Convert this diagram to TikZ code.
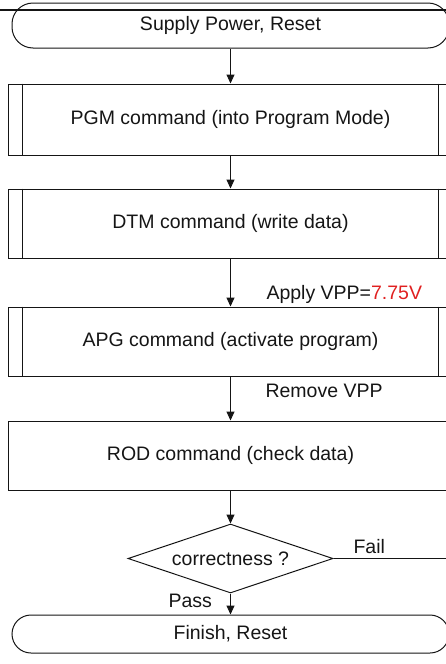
\documentclass[tikz,border=0pt]{standalone}
\usepackage{fontspec}
\setmainfont{Liberation Sans}
\usetikzlibrary{shapes.geometric,arrows.meta}
\definecolor{vred}{HTML}{E02020}
\definecolor{ink}{HTML}{151515}
\begin{document}
\begin{tikzpicture}[x=1pt,y=-1pt, line width=1pt, draw=ink, text=ink,
  font=\fontsize{19.5}{23}\selectfont,
  term/.style={draw, rounded corners=21pt, minimum width=437pt, minimum height=45pt, inner sep=0pt},
  proc/.style={draw, minimum width=445pt, minimum height=69pt, inner sep=0pt},
  dec/.style={draw, diamond, aspect=2.97, minimum width=205pt, minimum height=69pt, inner sep=0pt},
  lbl/.style={anchor=base west, inner sep=0pt},
  arr/.style={-{Triangle[length=9pt,width=8pt]}}]
\clip (0,0) rectangle (446,664);
% nodes
\node[term] (t1) at (230.5,25.5) {Supply Power, Reset};
\node[proc, minimum height=71pt] (pgm) at (230.5,119.5) {PGM command (into Program Mode)};
\node[proc] (dtm) at (230.5,223.5) {DTM command (write data)};
\node[proc] (apg) at (230.5,341.5) {APG command (activate program)};
\node[proc] (rod) at (230.5,455.5) {ROD command (check data)};
\node[dec] (chk) at (230.5,558.5) {correctness ?};
\node[term, rounded corners=19pt, minimum height=38pt] (t2) at (230.5,634) {Finish, Reset};
% inner bars of predefined-process boxes
\foreach \n in {pgm,dtm,apg}{
  \draw ([xshift=15pt]\n.north west) -- ([xshift=15pt]\n.south west);
  \draw ([xshift=-15pt]\n.north east) -- ([xshift=-15pt]\n.south east);
}
% top heavy rule
\coordinate (ruleL) at (0,10);
\coordinate (ruleR) at (446,10);
\draw[line width=2pt] (ruleL) -- (ruleR);
% connectors
\draw[arr] (t1.south) -- (pgm.north);
\draw[arr] (pgm.south) -- (dtm.north);
\draw[arr] (dtm.south) -- (apg.north);
\draw[arr] (apg.south) -- (rod.north);
\draw[arr] (rod.south) -- (chk.north);
\draw[arr] (chk.south) -- (t2.north);
\coordinate (failend) at (450,558.5);
\draw (chk.east) -- (failend);
% labels
\node[lbl] (apply) at (266,299) {Apply VPP=\textcolor{vred}{7.75V}};
\node[lbl] (remove) at (265,397) {Remove VPP};
\node[lbl] (fail) at (353,553) {Fail};
\node[lbl] (pass) at (168,607) {Pass};
\end{tikzpicture}
\end{document}
